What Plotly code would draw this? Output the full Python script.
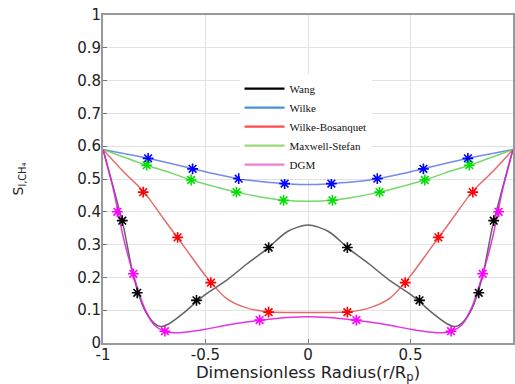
import plotly.graph_objects as go

# ---- data ----
wang_x = [-1, -0.95, -0.9, -0.85, -0.8, -0.75, -0.72, -0.68, -0.6, -0.54, -0.5, -0.4, -0.3, -0.2, -0.1, 0,
          0.1, 0.2, 0.3, 0.4, 0.5, 0.54, 0.6, 0.68, 0.72, 0.75, 0.8, 0.85, 0.9, 0.95, 1]
wang_y = [0.59, 0.475, 0.355, 0.20, 0.105, 0.06, 0.05, 0.058, 0.095, 0.128, 0.148, 0.19, 0.24, 0.287, 0.34, 0.36,
          0.34, 0.287, 0.24, 0.19, 0.148, 0.128, 0.095, 0.058, 0.05, 0.06, 0.105, 0.20, 0.355, 0.475, 0.59]
wang_mx = [-0.906, -0.833, -0.544, -0.192, 0.192, 0.544, 0.833, 0.906]
wang_my = [0.373, 0.153, 0.13, 0.291, 0.291, 0.13, 0.153, 0.373]

dgm_x = [-1, -0.95, -0.9, -0.85, -0.8, -0.75, -0.7, -0.64, -0.6, -0.5, -0.4, -0.3, -0.2, -0.1, 0,
         0.1, 0.2, 0.3, 0.4, 0.5, 0.6, 0.64, 0.7, 0.75, 0.8, 0.85, 0.9, 0.95, 1]
dgm_y = [0.59, 0.47, 0.32, 0.205, 0.11, 0.055, 0.036, 0.031, 0.033, 0.042, 0.054, 0.064, 0.072, 0.078, 0.08,
         0.078, 0.072, 0.064, 0.054, 0.042, 0.033, 0.031, 0.036, 0.055, 0.11, 0.205, 0.32, 0.47, 0.59]
dgm_mx = [-0.93, -0.852, -0.698, -0.236, 0.236, 0.698, 0.852, 0.93]
dgm_my = [0.40, 0.211, 0.036, 0.070, 0.070, 0.036, 0.211, 0.40]

wb_x = [-1, -0.9, -0.8, -0.7, -0.6, -0.5, -0.4, -0.3, -0.2, -0.1, 0,
        0.1, 0.2, 0.3, 0.4, 0.5, 0.6, 0.7, 0.8, 0.9, 1]
wb_y = [0.59, 0.522, 0.46, 0.375, 0.29, 0.205, 0.137, 0.107, 0.095, 0.093, 0.093,
        0.093, 0.095, 0.107, 0.137, 0.205, 0.29, 0.375, 0.46, 0.522, 0.59]
wb_mx = [-0.804, -0.636, -0.474, -0.192, 0.192, 0.474, 0.636, 0.804]
wb_my = [0.46, 0.322, 0.184, 0.094, 0.094, 0.184, 0.322, 0.46]

wilke_x = [-1, -0.9, -0.78, -0.7, -0.56, -0.45, -0.34, -0.2, -0.11, 0,
           0.11, 0.2, 0.34, 0.45, 0.56, 0.7, 0.78, 0.9, 1]
wilke_y = [0.59, 0.578, 0.563, 0.552, 0.531, 0.515, 0.501, 0.49, 0.486, 0.483,
           0.486, 0.49, 0.501, 0.515, 0.531, 0.552, 0.563, 0.578, 0.59]
wilke_mx = [-0.78, -0.563, -0.338, -0.114, 0.114, 0.338, 0.563, 0.78]
wilke_my = [0.563, 0.531, 0.501, 0.486, 0.486, 0.501, 0.531, 0.563]

ms_x = [-1, -0.9, -0.79, -0.7, -0.57, -0.45, -0.35, -0.2, -0.12, 0,
        0.12, 0.2, 0.35, 0.45, 0.57, 0.7, 0.79, 0.9, 1]
ms_y = [0.59, 0.567, 0.542, 0.525, 0.497, 0.476, 0.46, 0.442, 0.435, 0.432,
        0.435, 0.442, 0.46, 0.476, 0.497, 0.525, 0.542, 0.567, 0.59]
ms_mx = [-0.787, -0.570, -0.349, -0.119, 0.119, 0.349, 0.570, 0.787]
ms_my = [0.542, 0.497, 0.46, 0.435, 0.435, 0.46, 0.497, 0.542]

x_ticks = [-1, -0.5, 0, 0.5, 1]
x_ticklabels = ["-1", "-0.5", "0", "0.5", "1"]
y_ticks = [0, 0.1, 0.2, 0.3, 0.4, 0.5, 0.6, 0.7, 0.8, 0.9, 1]
y_ticklabels = ["0", "0.1", "0.2", "0.3", "0.4", "0.5", "0.6", "0.7", "0.8", "0.9", "1"]

series = [
    ("Wang", wang_x, wang_y, wang_mx, wang_my, "rgba(60,60,60,0.8)", "#000000", "#000000"),
    ("Wilke", wilke_x, wilke_y, wilke_mx, wilke_my, "rgba(80,110,230,0.8)", "#0000ff", "#4a90d9"),
    ("Wilke-Bosanquet", wb_x, wb_y, wb_mx, wb_my, "rgba(225,80,80,0.85)", "#ff0000", "#ff4a4a"),
    ("Maxwell-Stefan", ms_x, ms_y, ms_mx, ms_my, "rgba(90,210,80,0.85)", "#00e000", "#9ad878"),
    ("DGM", dgm_x, dgm_y, dgm_mx, dgm_my, "rgba(225,30,225,0.9)", "#ff00ff", "#ee7fd8"),
]

fig = go.Figure()
for name, x, y, mx, my, lc, mc, legc in series:
    fig.add_trace(go.Scatter(x=x, y=y, mode="lines", line=dict(color=lc, width=1.5, shape="spline", smoothing=0.8),
                             showlegend=False, hoverinfo="skip"))
for name, x, y, mx, my, lc, mc, legc in series:
    fig.add_trace(go.Scatter(x=mx, y=my, mode="markers",
                             marker=dict(symbol="asterisk-open", size=9, color=mc, line=dict(color=mc, width=1.6)),
                             showlegend=False))
for name, x, y, mx, my, lc, mc, legc in series:
    fig.add_trace(go.Scatter(x=[None], y=[None], mode="lines", name=name,
                             line=dict(color=legc, width=2.2)))

fig.update_layout(
    width=515, height=384,
    margin=dict(l=103, r=2, t=15, b=41),
    paper_bgcolor="white", plot_bgcolor="white",
    font=dict(family="DejaVu Sans", size=15, color="#222222"),
    legend=dict(x=0.333, y=0.82, xanchor="left", yanchor="top",
                bgcolor="white", borderwidth=0,
                font=dict(family="Liberation Serif", size=11, color="#111111"),
                tracegroupgap=0, itemwidth=40),
    xaxis=dict(range=[-1, 1], tickvals=x_ticks, ticktext=x_ticklabels, automargin=False,
               showgrid=True, gridcolor="#e3e3e3", gridwidth=1, zeroline=False,
               showline=True, linecolor="#999999", linewidth=2, mirror=True,
               ticks="inside", ticklen=4, tickcolor="#777777", ticklabelstandoff=-3,
               tickfont=dict(size=15),
               title=dict(text="Dimensionless Radius(r/R<sub>p</sub>)", font=dict(size=16.5), standoff=4)),
    yaxis=dict(range=[0, 1], tickvals=y_ticks, ticktext=y_ticklabels, automargin=False,
               showgrid=True, gridcolor="#e3e3e3", gridwidth=1, zeroline=False,
               showline=True, linecolor="#999999", linewidth=2, mirror=True,
               ticks="inside", ticklen=4, tickcolor="#777777", ticklabelstandoff=-3,
               title=dict(text="S<sub>l,CH₄</sub>", font=dict(size=14), standoff=50)),
)

fig.write_html("out.html", config={"displayModeBar": False},
               post_script="document.body.style.margin='0';")
